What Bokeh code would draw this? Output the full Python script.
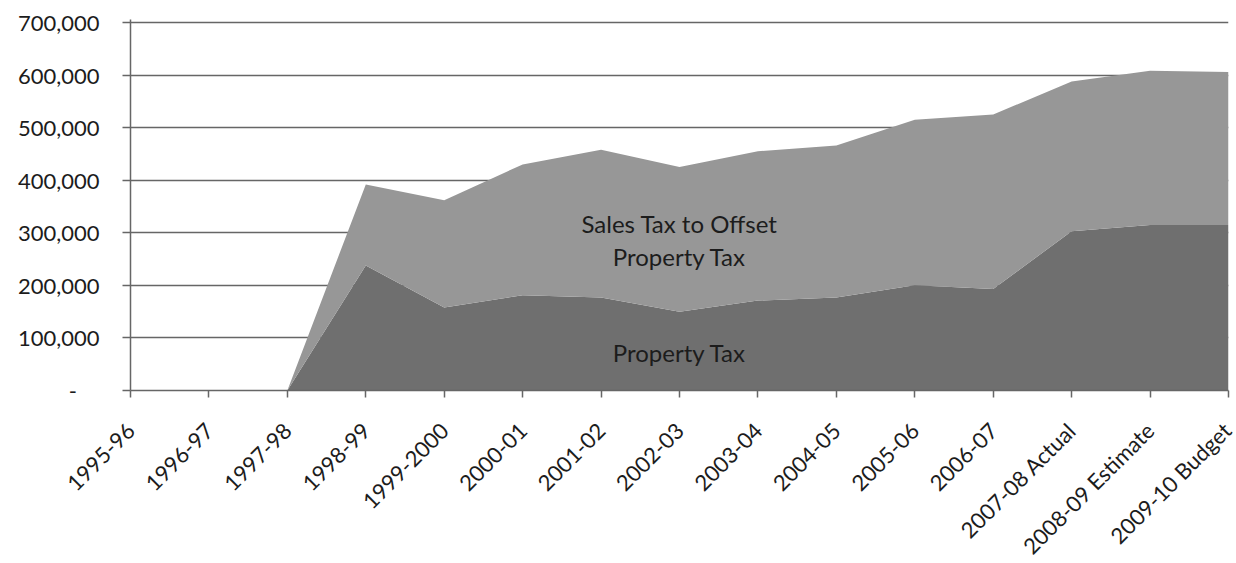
from math import pi
from bokeh.plotting import figure
from bokeh.models import FixedTicker, ColumnDataSource, Range1d
from bokeh.core.properties import value
from bokeh.embed import file_html
from bokeh.resources import INLINE

categories = ["1995-96", "1996-97", "1997-98", "1998-99", "1999-2000", "2000-01",
              "2001-02", "2002-03", "2003-04", "2004-05", "2005-06", "2006-07",
              "2007-08 Actual", "2008-09 Estimate", "2009-10 Budget"]
property_tax = [0, 0, 0, 238000, 158000, 181000, 177000, 150000, 171000, 177000,
                200000, 193000, 303000, 315000, 315000]
sales_tax_offset = [0, 0, 0, 154000, 204000, 249000, 281000, 275000, 284000, 289000,
                    315000, 332000, 285000, 293000, 291000]
y_ticks = [0, 100000, 200000, 300000, 400000, 500000, 600000, 700000]
y_tick_labels = ["-\u00a0\u00a0\u00a0\u00a0", "100,000", "200,000", "300,000", "400,000",
                 "500,000", "600,000", "700,000"]

label_texts = ["Sales Tax to Offset", "Property Tax", "Property Tax"]
label_x = [7, 7, 7]
label_y = [317600, 255100, 72100]

FONT = "Lato"
TEXT_COLOR = "#1c1c1c"
LINE_COLOR = "#666666"

xs = list(range(len(categories)))
src = ColumnDataSource(dict(x=xs, property=property_tax, sales=sales_tax_offset))

# frame: 700,000 at y=22, 0 at y=390 (368px); extend 3px above so top gridline shows
y_max = 700000 * 371 / 368
p = figure(width=1236, height=563, output_backend="svg", toolbar_location=None,
           x_range=Range1d(0, len(categories) - 1), y_range=Range1d(0, y_max),
           min_border_left=130, min_border_right=8, min_border_top=19, min_border_bottom=173)
p.frame_width = 1098
p.frame_height = 371
p.outline_line_color = None
p.background_fill_color = "white"
p.border_fill_color = "white"

p.varea_stack(["property", "sales"], x="x", source=src,
              color=["#6f6f6f", "#979797"])

p.text(x=label_x, y=label_y, text=label_texts, text_font=value(FONT),
       text_font_size="24px", text_align="center", text_baseline="alphabetic",
       text_color=TEXT_COLOR)

# y axis
p.yaxis.ticker = FixedTicker(ticks=y_ticks)
p.yaxis.major_label_overrides = {t: l for t, l in zip(y_ticks, y_tick_labels)}
p.yaxis.minor_tick_line_color = None
p.yaxis.major_tick_out = 8
p.yaxis.major_tick_in = 0
p.yaxis.major_label_standoff = 23
p.yaxis.major_label_text_font = FONT
p.yaxis.major_label_text_font_size = "22px"
p.yaxis.major_label_text_color = TEXT_COLOR
p.yaxis.axis_line_color = LINE_COLOR
p.yaxis.axis_line_width = 1.5
p.yaxis.major_tick_line_color = LINE_COLOR
p.yaxis.major_tick_line_width = 1.5

# x axis
p.xaxis.ticker = FixedTicker(ticks=xs)
p.xaxis.major_label_overrides = {i: c for i, c in enumerate(categories)}
p.xaxis.major_label_orientation = pi / 4
p.xaxis.minor_tick_line_color = None
p.xaxis.major_tick_out = 7
p.xaxis.major_tick_in = 0
p.xaxis.major_label_standoff = 29
p.xaxis.major_label_text_font = FONT
p.xaxis.major_label_text_font_size = "22px"
p.xaxis.major_label_text_color = TEXT_COLOR
p.xaxis.axis_line_color = LINE_COLOR
p.xaxis.axis_line_width = 1.5
p.xaxis.major_tick_line_color = LINE_COLOR
p.xaxis.major_tick_line_width = 1.5

p.xgrid.grid_line_color = None
p.ygrid.ticker = FixedTicker(ticks=y_ticks)
p.ygrid.grid_line_color = LINE_COLOR
p.ygrid.grid_line_width = 1.5

open("out.html", "w").write(file_html(p, INLINE))
